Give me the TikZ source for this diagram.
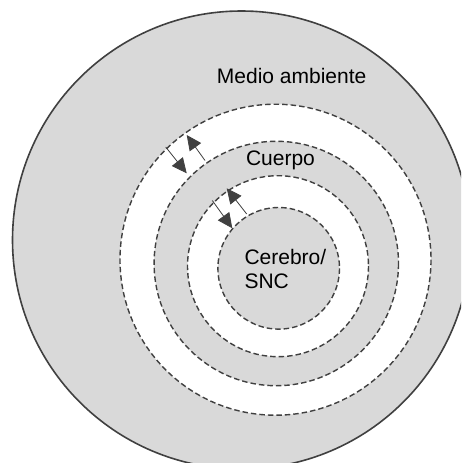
\documentclass[tikz,border=0pt]{standalone}
\usepackage{fontspec}
\setmainfont{Liberation Sans}
\usetikzlibrary{arrows.meta}
\definecolor{ringgray}{HTML}{D9D9D9}
\definecolor{linegray}{HTML}{404040}
\tikzset{
  ringline/.style={draw=linegray, line width=1.4pt, dash pattern=on 5.5pt off 3pt},
  flowarrow/.style={draw=linegray, line width=0.8pt, -{Triangle[length=15pt,width=14pt]}},
  txt/.style={inner sep=0pt, font=\fontsize{21}{24}\selectfont, text=black}
}
\begin{document}
\begin{tikzpicture}[x=1pt,y=-1pt]
\useasboundingbox (0,0) rectangle (461,463);
\clip (0,0) rectangle (461,463);
% filled layers
\fill[ringgray] (241.5,240) circle[radius=229];
\fill[white] (275.5,259.7) circle[radius=155.5];
\fill[ringgray] (276.3,263.5) circle[radius=122.2];
\fill[white] (278,266.2) circle[radius=90.5];
\fill[ringgray] (278.7,268.3) circle[radius=60.8];
% outlines
\draw[linegray, line width=1.6pt] (241.5,240) circle[radius=229];
\draw[ringline] (275.5,259.7) circle[radius=155.5];
\draw[ringline] (276.3,263.5) circle[radius=122.2];
\draw[ringline] (278,266.2) circle[radius=90.5];
\draw[ringline] (278.7,268.3) circle[radius=60.8];
% arrow end points
\coordinate (a1s) at (165.7,147);
\coordinate (a1e) at (186.7,173.3);
\coordinate (a2s) at (205,160.5);
\coordinate (a2e) at (186.7,135);
\coordinate (b1s) at (212.3,200.5);
\coordinate (b1e) at (232.3,228.3);
\coordinate (b2s) at (246.7,214);
\coordinate (b2e) at (226.7,188.3);
\draw[flowarrow] (a1s) -- (a1e);
\draw[flowarrow] (a2s) -- (a2e);
\draw[flowarrow] (b1s) -- (b1e);
\draw[flowarrow] (b2s) -- (b2e);
% labels
\node[txt, anchor=base] (medio) at (291.7,83.3) {Medio ambiente};
\node[txt, anchor=base] (cuerpo) at (280.5,165.7) {Cuerpo};
\node[txt, anchor=base west] (cerebro) at (244.3,264.3) {Cerebro/};
\node[txt, anchor=base west] (snc) at (244.3,288.3) {SNC};
\end{tikzpicture}
\end{document}
